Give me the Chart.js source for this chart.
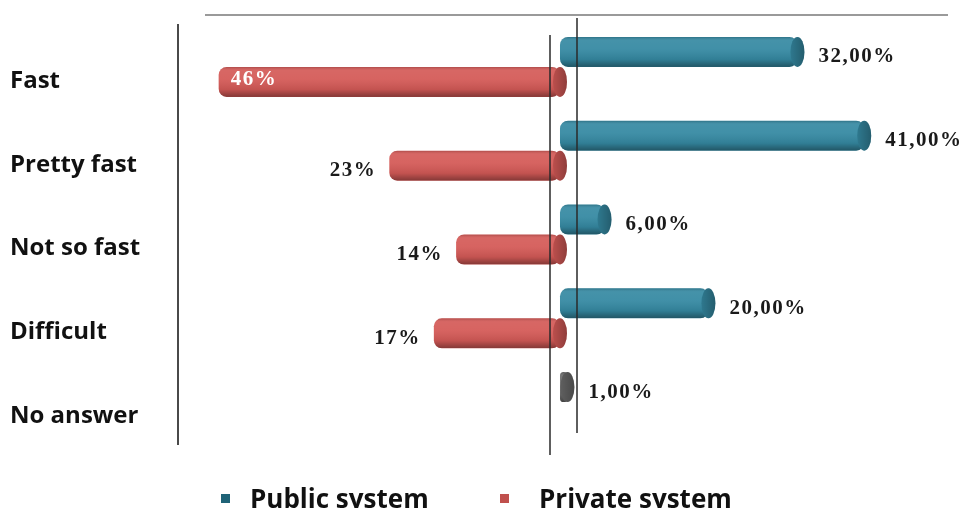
<!DOCTYPE html>
<html>
<head>
<meta charset="utf-8">
<title>Public vs private system</title>
<script src="https://cdn.jsdelivr.net/npm/chart.js@4.4.0/dist/chart.umd.min.js"></script>
<style>
    html, body { margin: 0; padding: 0; background: #fff; overflow: hidden; }
    #wrap { position: relative; width: 963px; height: 508px; }
</style>
</head>
<body>
<div id="wrap"><canvas id="barChart"></canvas></div>
<script>
// chart data
const categories = ["Fast", "Pretty fast", "Not so fast", "Difficult", "No answer"];
const publicValues = [32, 41, 6, 20, 1];
const privateValues = [46, 23, 14, 17, null];
const seriesNames = ["Public system", "Private system"];

// colours
const teal = "#3589a2";
const red = "#d45a57";
const gray = "#6c6c6c";
const publicColors = [teal, teal, teal, teal, gray];
const legendColors = ["#1f6377", "#c0504d"];

function fmtPublic(v) {
    return v.toFixed(2).replace(".", ",") + "%";
}
function fmtPrivate(v) {
    return v + "%";
}

// shading, end caps and value labels for the cylinder bars
const cylinderPlugin = {
    id: "cylinder",
    afterDatasetsDraw(chart) {
        const ctx = chart.ctx;
        const area = chart.chartArea;
        chart.data.datasets.forEach((ds, di) => {
            const meta = chart.getDatasetMeta(di);
            meta.data.forEach((el, i) => {
                const v = ds.data[i];
                if (v === null || v === undefined) return;
                const h = el.height;
                const left = Math.min(el.x, el.base);
                const right = Math.max(el.x, el.base);
                const top = el.y - h / 2;
                const color = el.options.backgroundColor;

                // vertical shading across the body
                ctx.save();
                ctx.beginPath();
                ctx.roundRect(left, top, right - left, h, 8);
                ctx.clip();
                const g = ctx.createLinearGradient(0, top, 0, top + h);
                g.addColorStop(0, "rgba(0,0,0,0.18)");
                g.addColorStop(0.12, "rgba(255,255,255,0.08)");
                g.addColorStop(0.4, "rgba(255,255,255,0.06)");
                g.addColorStop(0.75, "rgba(0,0,0,0.08)");
                g.addColorStop(1, "rgba(0,0,0,0.38)");
                ctx.fillStyle = g;
                ctx.fillRect(left, top, right - left, h);
                ctx.restore();

                // end cap
                ctx.save();
                ctx.beginPath();
                ctx.ellipse(right, el.y, 7, h / 2, 0, 0, Math.PI * 2);
                ctx.fillStyle = color;
                ctx.fill();
                const cg = ctx.createLinearGradient(right - 7, 0, right + 7, 0);
                cg.addColorStop(0, "rgba(0,0,0,0.12)");
                cg.addColorStop(1, "rgba(0,0,0,0.32)");
                ctx.fillStyle = cg;
                ctx.fill();
                ctx.restore();

                // value label
                ctx.save();
                ctx.font = "bold 21px 'Liberation Serif'";
                ctx.letterSpacing = "1.5px";
                ctx.textBaseline = "middle";
                if (di === 0) {
                    ctx.fillStyle = "#1a1a1a";
                    ctx.textAlign = "left";
                    ctx.fillText(fmtPublic(v), right + 21, el.y + 5);
                } else {
                    const txt = fmtPrivate(v);
                    const w = ctx.measureText(txt).width;
                    if (left - 14 - w < area.left) {
                        ctx.fillStyle = "#ffffff";
                        ctx.textAlign = "left";
                        ctx.fillText(txt, left + 12, el.y - 2);
                    } else {
                        ctx.fillStyle = "#1a1a1a";
                        ctx.textAlign = "right";
                        ctx.fillText(txt, left - 13, el.y + 5);
                    }
                }
                ctx.restore();
            });
        });

        // axis lines of the two halves and the top rule
        ctx.save();
        ctx.strokeStyle = "#9a9a9a";
        ctx.lineWidth = 2;
        ctx.beginPath();
        ctx.moveTo(205, 15);
        ctx.lineTo(948, 15);
        ctx.stroke();
        ctx.strokeStyle = "#2a2a2a";
        ctx.lineWidth = 1.5;
        ctx.beginPath();
        ctx.moveTo(577, 18);
        ctx.lineTo(577, 433);
        ctx.moveTo(550, 35);
        ctx.lineTo(550, 455);
        ctx.stroke();
        ctx.restore();
    },
    afterDraw(chart) {
        // legend along the bottom edge
        const ctx = chart.ctx;
        const boxX = [221, 500];
        const textX = [250, 539];
        ctx.save();
        ctx.font = "bold 26px 'Open Sans'";
        ctx.textBaseline = "alphabetic";
        ctx.textAlign = "left";
        seriesNames.forEach((name, i) => {
            ctx.fillStyle = legendColors[i];
            ctx.fillRect(boxX[i], 494, 9, 9);
            ctx.fillStyle = "#111";
            ctx.fillText(name, textX[i], 508);
        });
        ctx.restore();
    }
};

const ctx = document.getElementById("barChart").getContext("2d");
const barChart = new Chart(ctx, {
    type: "bar",
    data: {
        labels: categories,
        datasets: [
            {
                label: seriesNames[0],
                data: publicValues,
                xAxisID: "xPub",
                backgroundColor: publicColors,
                borderRadius: 8,
                borderSkipped: false
            },
            {
                label: seriesNames[1],
                data: privateValues,
                xAxisID: "xPriv",
                backgroundColor: red,
                borderRadius: 8,
                borderSkipped: false
            }
        ]
    },
    options: {
        indexAxis: "y",
        responsive: true,
        maintainAspectRatio: false,
        animation: false,
        devicePixelRatio: 1,
        barPercentage: 1,
        categoryPercentage: 0.716,
        layout: { padding: { top: 25, right: 15, left: 10, bottom: 0 } },
        scales: {
            y: {
                grid: { display: false },
                border: { display: true, color: "#4a4a4a", width: 2 },
                ticks: {
                    crossAlign: "far",
                    labelOffset: 14,
                    padding: 0,
                    color: "#111",
                    font: { family: "Open Sans", size: 24, weight: "bold" }
                },
                afterFit: s => { s.width = 168; }
            },
            xPub: {
                type: "linear",
                position: "bottom",
                min: -51.48,
                max: 52.29,
                grid: { display: false },
                border: { display: false },
                ticks: { display: false },
                afterFit: s => { s.height = 64; }
            },
            xPriv: {
                type: "linear",
                position: "bottom",
                reverse: true,
                min: -52.29,
                max: 51.48,
                display: false
            }
        },
        plugins: {
            tooltip: { enabled: false },
            legend: { display: false }
        }
    },
    plugins: [cylinderPlugin]
});
</script>
</body>
</html>
